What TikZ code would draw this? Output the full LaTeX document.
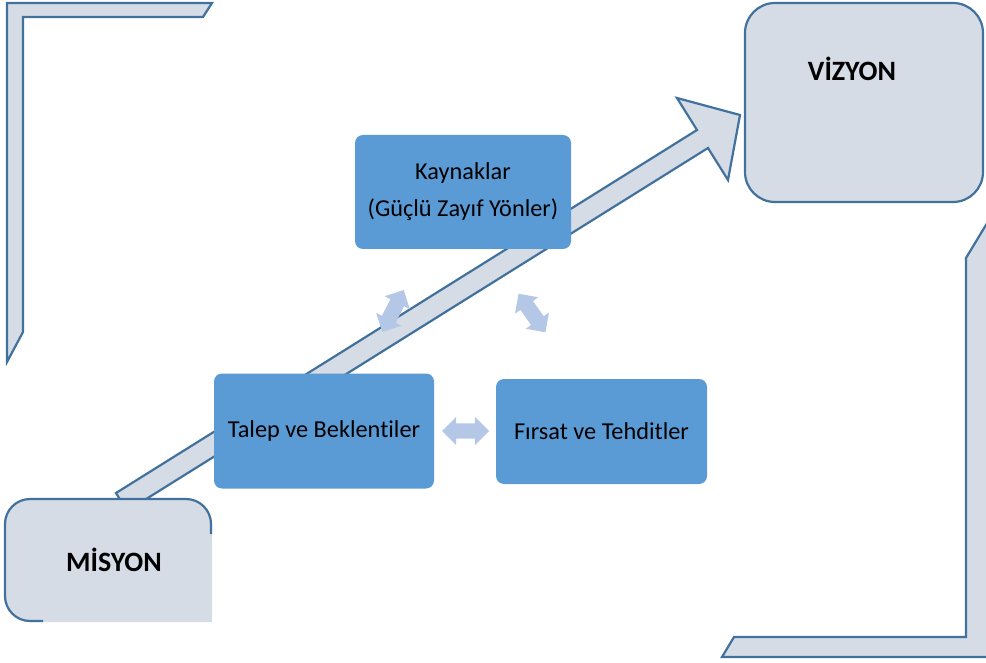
\documentclass[tikz,border=0pt]{standalone}
\usepackage{fontspec}
\setmainfont[Ligatures={NoCommon,NoRare,NoContextual}]{Carlito}
\usetikzlibrary{shapes.arrows}
\definecolor{edgeblue}{HTML}{41719C}
\definecolor{paleblue}{HTML}{D6DCE5}
\definecolor{boxblue}{HTML}{5B9BD5}
\definecolor{arrowblue}{HTML}{B4C7E7}
\begin{document}
\begin{tikzpicture}[x=1pt,y=-1pt,
  frame/.style={draw=edgeblue, fill=paleblue, line width=2.2pt, line join=miter},
  bluebox/.style={fill=boxblue, rounded corners=8pt, inner sep=0pt, align=center,
                  font=\fontsize{24.3}{37}\selectfont},
  pastelarrow/.style={double arrow, fill=arrowblue, minimum height=47pt,
                  inner xsep=0pt, inner ysep=7.5pt, text height=0pt, text depth=0pt,
                  double arrow head extend=6.5pt},
  bigbox/.style={draw=edgeblue, fill=paleblue, line width=2.2pt, rounded corners=30pt, inner sep=0pt},
  boldlabel/.style={font=\fontsize{28}{34}\selectfont\bfseries, inner sep=0pt}]
\useasboundingbox (0,0) rectangle (986,663);

% corner frames
\path[frame] (7,3) -- (212,3) -- (203,17) -- (23,17) -- (23,332) -- (7,362) -- cycle;
\path[frame] (966,258) -- (966,637) -- (734,637) -- (722,657) -- (995,657) -- (995,210) -- cycle;

% big arrow from mission to vision
\path[frame] (116,493) -- (697,130) -- (677,98) -- (740,115) -- (728,180) -- (708,148) -- (127,511) -- cycle;

% blue boxes
\node[bluebox, minimum width=216pt, minimum height=114pt] (kay) at (463,192) {Kaynaklar\\(Güçlü Zayıf Yönler)};
\node[bluebox, minimum width=220pt, minimum height=115pt] (tal) at (324,431) {Talep ve Beklentiler};
\node[bluebox, minimum width=211pt, minimum height=105pt] (fir) at (601.5,431.5) {Fırsat ve Tehditler};

% pastel double arrows
\node[pastelarrow] (a1) at (465.5,431) {};
\node[pastelarrow, rotate=63] (a2) at (393,311) {};
\node[pastelarrow, rotate=-55] (a3) at (532,313) {};

% vision box
\node[bigbox, minimum width=238pt, minimum height=199pt] (viz) at (864,102.5) {};
\node[boldlabel] (viztext) at (852,68.5) {VİZYON};

% mission box (clipped at right and bottom)
\fill[paleblue, rounded corners=25pt] (212,622) -- (5,622) -- (5,499) -- (212,499) -- (212,622);
\draw[edgeblue, line width=2.2pt, rounded corners=25pt] (43,621) -- (5,621) -- (5,499) -- (211,499) -- (211,534);
\node[boldlabel] (mis) at (114,559.5) {MİSYON};
\end{tikzpicture}
\end{document}
